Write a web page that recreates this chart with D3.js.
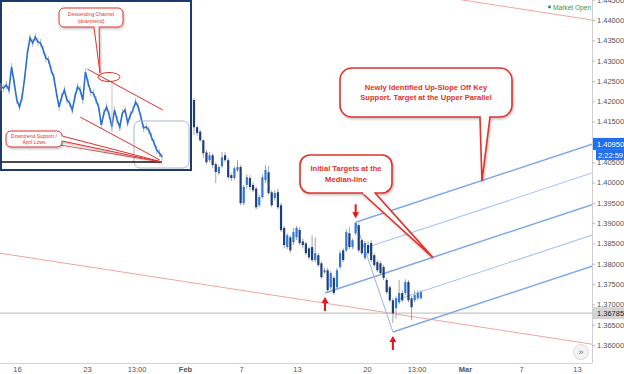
<!DOCTYPE html>
<html>
<head>
<meta charset="utf-8">
<script src="https://cdn.jsdelivr.net/npm/d3@7"></script>
<style>
  body { margin: 0; background: #fff; }
  svg { display: block; font-family: "Liberation Sans", Arial, sans-serif; }
</style>
</head>
<body>
<svg id="chart" width="624" height="374"></svg>
<script>
// ---- data ----
// x runs in trading days, 0 = Jan 16 (weekends removed)
const xTickDays = [0, 5, 8.54, 12, 16, 20, 25, 28.54, 32, 36, 40];
const xTickLabels = ["16", "23", "13:00", "Feb", "7", "13", "20", "13:00", "Mar", "7", "13"];
// 1.41000 sits under the blue last-price label, so it is not listed
const yTickValues = [1.360, 1.365, 1.370, 1.375, 1.380, 1.385, 1.390, 1.395, 1.400,
                     1.405, 1.415, 1.420, 1.425, 1.430, 1.435, 1.440, 1.445];

// candles [open, high, low, close]
const candleStartDay = 12.643;
const candleStepDay = 0.222;
const candles = [
  [1.4203,1.4208,1.4117,1.4136],[1.4136,1.4140,1.4115,1.4122],[1.4125,1.4130,1.4100,1.4104],
  [1.4104,1.4106,1.4060,1.4072],[1.4074,1.4080,1.4045,1.4050],[1.4055,1.4075,1.4050,1.4067],
  [1.4067,1.4072,1.4036,1.4043],[1.4045,1.4050,1.3999,1.4026],[1.4023,1.4043,1.4018,1.4038],
  [1.4040,1.4075,1.4035,1.4062],[1.4067,1.4075,1.4050,1.4055],[1.4055,1.4060,1.4008,1.4013],
  [1.4018,1.4023,1.4004,1.4011],[1.4011,1.4040,1.4006,1.4035],[1.4030,1.4055,1.4026,1.4038],
  [1.4038,1.4043,1.3944,1.3949],[1.3949,1.3994,1.3944,1.3989],[1.3994,1.4020,1.3985,1.4013],
  [1.4011,1.4018,1.3981,1.3989],[1.3994,1.4000,1.3976,1.3981],[1.3985,1.3990,1.3934,1.3939],
  [1.3944,1.3970,1.3939,1.3964],[1.3964,1.4020,1.3960,1.4013],[1.4006,1.4043,1.3999,1.4031],
  [1.4025,1.4040,1.3970,1.3974],[1.3976,1.3981,1.3939,1.3944],[1.3962,1.3981,1.3955,1.3974],
  [1.3976,1.3985,1.3934,1.3939],[1.3944,1.3950,1.3878,1.3883],[1.3888,1.3893,1.3838,1.3846],
  [1.3841,1.3875,1.3836,1.3870],[1.3865,1.3870,1.3826,1.3833],[1.3853,1.3888,1.3846,1.3878],
  [1.3865,1.3893,1.3858,1.3888],[1.3883,1.3890,1.3846,1.3851],[1.3855,1.3862,1.3838,1.3846],
  [1.3850,1.3855,1.3821,1.3826],[1.3838,1.3842,1.3810,1.3816],[1.3841,1.3870,1.3804,1.3809],
  [1.3809,1.3865,1.3804,1.3826],[1.3821,1.3826,1.3792,1.3797],[1.3801,1.3806,1.3762,1.3767],
  [1.3779,1.3790,1.3775,1.3784],[1.3784,1.3790,1.3728,1.3735],[1.3742,1.3782,1.3735,1.3777],
  [1.3765,1.3770,1.3723,1.3728],[1.3742,1.3790,1.3737,1.3784],[1.3792,1.3833,1.3787,1.3826],
  [1.3833,1.3838,1.3804,1.3809],[1.3833,1.3885,1.3828,1.3878],[1.3875,1.3890,1.3836,1.3841],
  [1.3841,1.3862,1.3836,1.3858],[1.3875,1.3902,1.3870,1.3900],[1.3895,1.3900,1.3828,1.3833],
  [1.3858,1.3862,1.3821,1.3826],[1.3814,1.3856,1.3809,1.3851],[1.3846,1.3855,1.3821,1.3826],
  [1.3851,1.3858,1.3804,1.3809],[1.3821,1.3826,1.3792,1.3797],[1.3804,1.3809,1.3780,1.3784],
  [1.3801,1.3806,1.3772,1.3777],[1.3792,1.3797,1.3760,1.3765],[1.3760,1.3765,1.3725,1.3730],
  [1.3742,1.3747,1.3705,1.3710],[1.3710,1.3715,1.3654,1.3678],[1.3691,1.3720,1.3665,1.3715],
  [1.3705,1.3760,1.3700,1.3728],[1.3728,1.3735,1.3705,1.3710],[1.3728,1.3762,1.3723,1.3755],
  [1.3755,1.3760,1.3705,1.3710],[1.3715,1.3720,1.3661,1.3693],[1.3710,1.3735,1.3705,1.3723],
  [1.3715,1.3735,1.3710,1.3728],[1.3715,1.3735,1.3712,1.3730]
];

// pitchfork: start points [day, price], all lines share one slope (price per day)
const pitchStarts = [[24.19, 1.3902], [25.07, 1.3841], [22.0, 1.3728], [27.0, 1.3710], [26.85, 1.3632]];
const pitchSlope = 0.00114;
const pitchHandle = [[24.19, 1.3902], [26.85, 1.3632]];

// red trend lines [day, price]
const supportLine = [[-1.214, 1.3826], [41.07, 1.3602]];
const upperRedLine = [[30.0, 1.4459], [41.07, 1.4400]];
const hLinePrice = 1.36785;
const lastPrice = 1.40950;
const countdown = "2:22:59";

// pivot arrows [day, price]
const arrowsDown = [[24.19, 1.3912]];
const arrowsUp = [[22.0, 1.3718], [26.85, 1.3622]];

// callout tips [day, price]
const tipUpper = [33.21, 1.4004];
const tipMedian = [29.71, 1.3815];

// inset picture: price level per bar (arbitrary units)
const insetLevels = [93,92,95,90,113,97,80,73,83,103,127,142,137,143,138,137,130,122,120,110,
  103,87,73,83,90,80,77,70,83,93,90,80,108,97,88,87,80,73,55,67,73,65,53,70,60,53,67,70,57,65,
  70,78,73,63,52,53,50,43,37,30,27,23];
const insetChannelUpper = [[32.7, 111], [61.3, 70]];
const insetChannelLower = [[30.0, 63], [60.2, 20]];
const insetSupport = [[0.3, 18], [61.0, 18]];

// ---- drawing ----
const red = "#e2312c";
const svg = d3.select("#chart");
const plotW = 592, plotH = 363;

const x = d3.scaleLinear().domain([-17 / 14, 575 / 14]).range([0, plotW]);
const y = d3.scaleLinear().domain([1.36, 1.44]).range([345, 20]);

const defs = svg.append("defs");
defs.append("clipPath").attr("id", "plotclip")
  .append("rect").attr("width", plotW).attr("height", plotH);
const sh = defs.append("filter").attr("id", "shadow")
  .attr("x", "-10%").attr("y", "-10%").attr("width", "130%").attr("height", "140%");
sh.append("feDropShadow").attr("dx", 1).attr("dy", 1.5).attr("stdDeviation", 1)
  .attr("flood-color", "#000").attr("flood-opacity", 0.25);

const plot = svg.append("g").attr("clip-path", "url(#plotclip)");

// horizontal price line
plot.append("line")
  .attr("x1", 0).attr("x2", plotW)
  .attr("y1", y(hLinePrice)).attr("y2", y(hLinePrice))
  .attr("stroke", "#c8c8c8").attr("stroke-width", 1.2);

// red trend lines
[supportLine, upperRedLine].forEach(l => {
  plot.append("line")
    .attr("x1", x(l[0][0])).attr("y1", y(l[0][1]))
    .attr("x2", x(l[1][0])).attr("y2", y(l[1][1]))
    .attr("stroke", "#f4a3a3").attr("stroke-width", 1);
});

// pitchfork
const endDay = x.domain()[1];
pitchStarts.forEach((s, i) => {
  const main = i % 2 === 0;
  plot.append("line")
    .attr("x1", x(s[0])).attr("y1", y(s[1]))
    .attr("x2", x(endDay)).attr("y2", y(s[1] + pitchSlope * (endDay - s[0])))
    .attr("stroke", main ? "#7ea8ea" : "#a9c5f1")
    .attr("stroke-width", main ? 1.5 : 1.1);
});
plot.append("line")
  .attr("x1", x(pitchHandle[0][0])).attr("y1", y(pitchHandle[0][1]))
  .attr("x2", x(pitchHandle[1][0])).attr("y2", y(pitchHandle[1][1]))
  .attr("stroke", "#8fb3ec").attr("stroke-width", 1);

// candles
const cg = plot.append("g");
candles.forEach((c, i) => {
  const cx = x(candleStartDay + i * candleStepDay);
  const up = c[3] >= c[0];
  cg.append("line")
    .attr("x1", cx).attr("x2", cx)
    .attr("y1", y(c[1])).attr("y2", y(c[2]))
    .attr("stroke", "#a3a3a3").attr("stroke-width", 1);
  const top = y(Math.max(c[0], c[3])), bot = y(Math.min(c[0], c[3]));
  cg.append("rect")
    .attr("x", cx - 1.1).attr("width", 2.2)
    .attr("y", top).attr("height", Math.max(1, bot - top))
    .attr("fill", up ? "#2f7ae0" : "#1e3f7c");
});

// arrows
function arrow(d, dir) {
  const ax = x(d[0]), ay = y(d[1]);
  // dir 1 = pointing down (tip at ay), -1 = pointing up
  const s = dir;
  const p = `M${ax - 1},${ay - s * 14}L${ax + 1},${ay - s * 14}L${ax + 1},${ay - s * 6}` +
            `L${ax + 3.5},${ay - s * 6}L${ax},${ay}L${ax - 3.5},${ay - s * 6}L${ax - 1},${ay - s * 6}Z`;
  plot.append("path").attr("d", p).attr("fill", "#e8161b");
}
arrowsDown.forEach(d => arrow(d, 1));
arrowsUp.forEach(d => arrow(d, -1));

// callouts
function callout(g, box, tail, tip, lines, fs, gap, sw, weight) {
  const grp = g.append("g");
  const inner = grp.append("g").attr("filter", "url(#shadow)");
  inner.append("rect")
    .attr("x", box[0]).attr("y", box[1])
    .attr("width", box[2] - box[0]).attr("height", box[3] - box[1])
    .attr("rx", box[4]).attr("fill", "#fff")
    .attr("stroke", red).attr("stroke-width", sw);
  inner.append("path")
    .attr("d", `M${tail[0][0]},${tail[0][1]}L${tip[0]},${tip[1]}L${tail[1][0]},${tail[1][1]}`)
    .attr("fill", "#fff").attr("stroke", red).attr("stroke-width", sw)
    .attr("stroke-linejoin", "miter");
  // open the box edge where the tail joins
  const horiz = tail[0][1] === tail[1][1];
  const k = sw * 0.6;
  grp.append("line")
    .attr("x1", tail[0][0] + (horiz ? k : 0)).attr("y1", tail[0][1] + (horiz ? 0 : k))
    .attr("x2", tail[1][0] - (horiz ? k : 0)).attr("y2", tail[1][1] - (horiz ? 0 : k))
    .attr("stroke", "#fff").attr("stroke-width", sw + 1);
  const cx = (box[0] + box[2]) / 2;
  const cy = (box[1] + box[3]) / 2 - (lines.length - 1) * gap / 2;
  lines.forEach((t, i) => {
    grp.append("text")
      .attr("x", cx).attr("y", cy + i * gap)
      .attr("dy", "0.35em")
      .attr("text-anchor", "middle")
      .attr("font-size", fs).attr("font-weight", weight)
      .attr("fill", red)
      .text(t);
  });
}

const ann = svg.append("g");
callout(ann, [340, 68, 512, 117, 12], [[480, 117], [490, 117]],
  [x(tipUpper[0]), y(tipUpper[1])],
  ["Newly Identified Up-Slope Off Key", "Support. Target at the Upper Parallel"], 7.6, 10.5, 1.6, "bold");
callout(ann, [300, 155, 392, 193, 10], [[362, 193], [375, 193]],
  [x(tipMedian[0]), y(tipMedian[1])],
  ["Initial Targets at the", "Median-line"], 7.6, 10.5, 1.6, "bold");

// ---- inset picture ----
const inset = svg.append("g");
inset.append("rect").attr("x", 1).attr("y", 1).attr("width", 190).attr("height", 169)
  .attr("fill", "#fff").attr("stroke", "#1d3a6c").attr("stroke-width", 2);
const ix = d3.scaleLinear().domain([0, insetLevels.length - 1]).range([1, 162]);
const iy = d3.scaleLinear().domain([0, 180]).range([180, 0]);

insetLevels.forEach((v, i) => {
  inset.append("line")
    .attr("x1", ix(i)).attr("x2", ix(i))
    .attr("y1", iy(v + 4)).attr("y2", iy(v - 4))
    .attr("stroke", "#a8a8a8").attr("stroke-width", 0.8);
});
inset.append("path")
  .datum(insetLevels)
  .attr("d", d3.line().x((d, i) => ix(i)).y(d => iy(d)))
  .attr("fill", "none").attr("stroke", "#2a6ed8").attr("stroke-width", 1.6);

// grey marker line and box
inset.append("line").attr("x1", 112).attr("x2", 112).attr("y1", 82).attr("y2", 132)
  .attr("stroke", "#b5b5b5").attr("stroke-width", 0.8);
inset.append("rect").attr("x", 134).attr("y", 121).attr("width", 55).attr("height", 47)
  .attr("rx", 6).attr("fill", "none").attr("stroke", "#a9b5c4").attr("stroke-width", 1);

[insetChannelUpper, insetChannelLower].forEach(l => {
  inset.append("line")
    .attr("x1", ix(l[0][0])).attr("y1", iy(l[0][1]))
    .attr("x2", ix(l[1][0])).attr("y2", iy(l[1][1]))
    .attr("stroke", red).attr("stroke-width", 1);
});
inset.append("line")
  .attr("x1", ix(insetSupport[0][0])).attr("y1", iy(insetSupport[0][1]))
  .attr("x2", ix(insetSupport[1][0])).attr("y2", iy(insetSupport[1][1]))
  .attr("stroke", "#111").attr("stroke-width", 1.3);

inset.append("ellipse").attr("cx", 109).attr("cy", 77).attr("rx", 11).attr("ry", 4.5)
  .attr("fill", "none").attr("stroke", red).attr("stroke-width", 1);

const tipSupport = [ix(insetSupport[1][0]), iy(insetSupport[1][1])];
inset.append("line").attr("x1", 60).attr("y1", 145).attr("x2", tipSupport[0]).attr("y2", tipSupport[1])
  .attr("stroke", red).attr("stroke-width", 0.8);
callout(inset, [59, 8, 123, 27, 5], [[94, 27], [99, 27]], [100, 73],
  ["Descending Channel", "(downtrend)"], 5, 6.5, 1, "normal");
callout(inset, [6, 131, 62, 147, 5], [[62, 136], [62, 141]], tipSupport,
  ["Downtrend Support /", "April Lows"], 5, 6.5, 1, "normal");

// ---- axes ----
const yAxis = svg.append("g")
  .attr("transform", `translate(${plotW},0)`)
  .call(d3.axisRight(y).tickValues(yTickValues).tickFormat(d3.format(".5f")).tickSize(3).tickPadding(2));
yAxis.select(".domain").attr("stroke", "#cfcfcf").attr("d", `M0.5,0V${plotH}`);
yAxis.selectAll(".tick line").attr("stroke", "#bbb");
yAxis.selectAll("text").attr("fill", "#555").attr("font-size", 7.5)
  .attr("font-family", "'Liberation Sans', Arial, sans-serif");

const xAxis = svg.append("g")
  .attr("transform", `translate(0,${plotH})`)
  .call(d3.axisBottom(x).tickValues(xTickDays).tickFormat((d, i) => xTickLabels[i]).tickSize(0).tickPadding(4));
xAxis.select(".domain").attr("stroke", "#d4d4d4").attr("d", `M0,0.5H${plotW}`);
xAxis.selectAll("text").attr("fill", "#555").attr("font-size", 7.5)
  .attr("font-family", "'Liberation Sans', Arial, sans-serif")
  .attr("font-weight", (d, i) => (xTickLabels[i] === "Feb" || xTickLabels[i] === "Mar") ? "bold" : "normal");

// price labels on the axis
const lab = svg.append("g").attr("font-size", 7.5);
lab.append("rect").attr("x", 593).attr("y", y(hLinePrice) - 6).attr("width", 31).attr("height", 12)
  .attr("fill", "#d4d4d4");
lab.append("text").attr("x", 597).attr("y", y(hLinePrice)).attr("dy", "0.35em")
  .attr("fill", "#222").text(d3.format(".5f")(hLinePrice));

const lastY = y(lastPrice);
lab.append("rect").attr("x", 593).attr("y", lastY - 6).attr("width", 31).attr("height", 12)
  .attr("fill", "#1f6fee");
lab.append("text").attr("x", 597).attr("y", lastY).attr("dy", "0.35em")
  .attr("fill", "#fff").text(d3.format(".5f")(lastPrice));
lab.append("rect").attr("x", 596).attr("y", lastY + 6).attr("width", 28).attr("height", 10)
  .attr("fill", "#1f6fee");
lab.append("text").attr("x", 598).attr("y", lastY + 11).attr("dy", "0.35em")
  .attr("fill", "#fff").text(countdown);

// market open
svg.append("circle").attr("cx", 549.5).attr("cy", 7).attr("r", 1.4).attr("fill", "#1f8a4c");
svg.append("text").attr("x", 553).attr("y", 9.5).attr("font-size", 6.6)
  .attr("fill", "#2b9a5a").text("Market Open");

// scroll button
svg.append("circle").attr("cx", 581).attr("cy", 352).attr("r", 7.5)
  .attr("fill", "#f3f3f3").attr("stroke", "#dcdcdc");
svg.append("text").attr("x", 581).attr("y", 352).attr("dy", "0.35em").attr("text-anchor", "middle")
  .attr("font-size", 9).attr("fill", "#777").text("»");
</script>
</body>
</html>
